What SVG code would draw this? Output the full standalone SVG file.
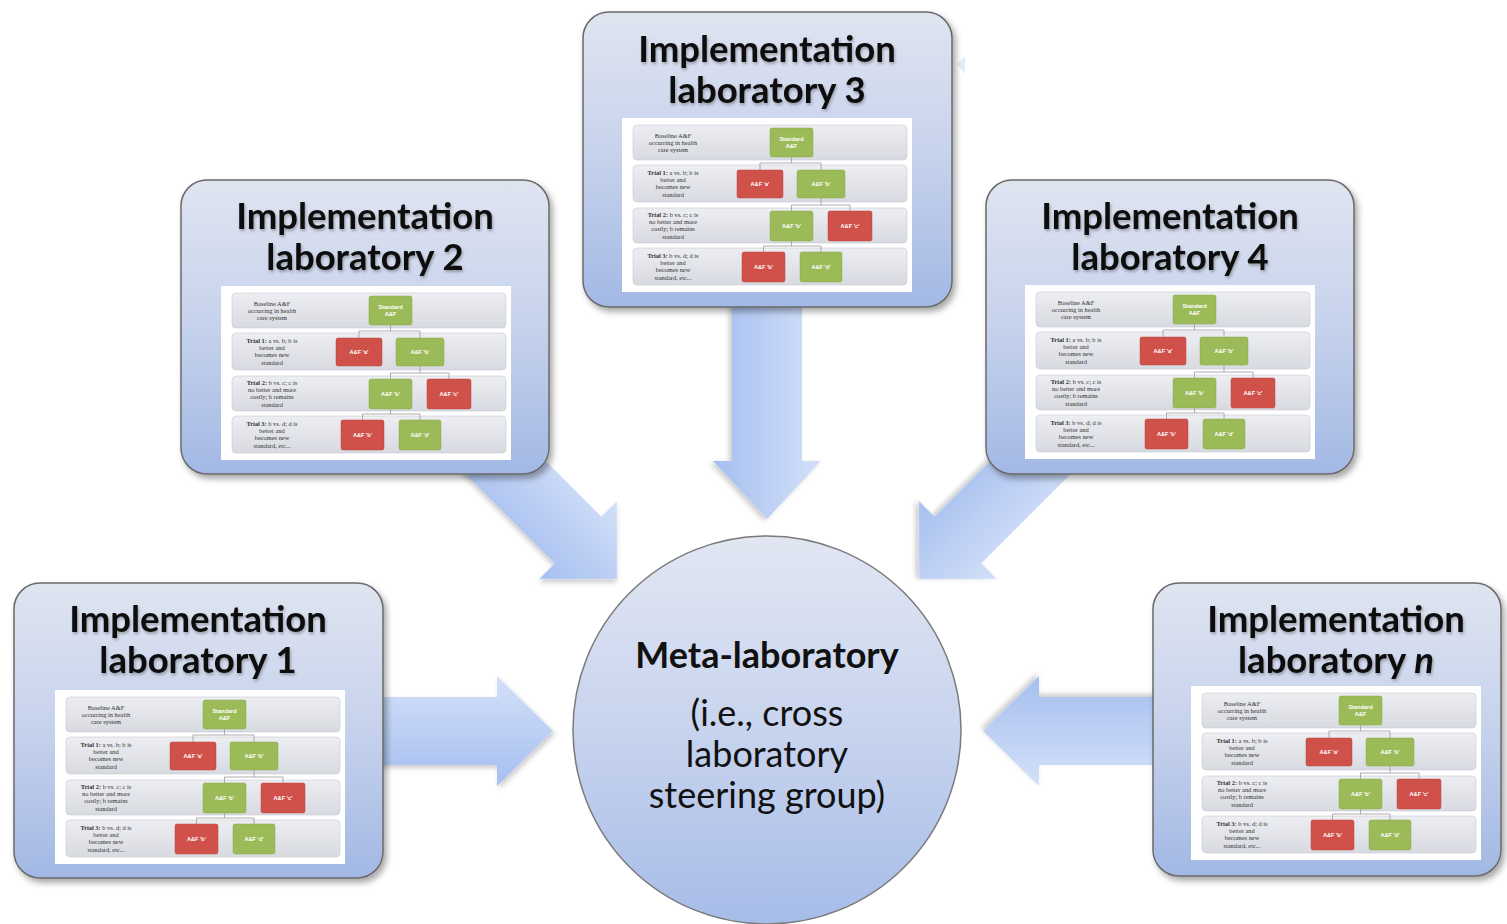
<svg xmlns="http://www.w3.org/2000/svg" xmlns:xlink="http://www.w3.org/1999/xlink" width="1507" height="924" viewBox="0 0 1507 924">
<style>
.box{stroke:#6a6a6a;stroke-width:1.5;fill:url(#boxGrad);filter:url(#shadow)}
.title{font-family:Lato,"Open Sans","Liberation Sans",sans-serif;font-weight:bold;font-size:36.5px;fill:#111;text-anchor:middle;filter:url(#tshadow)}
.circ{font-family:Lato,"Open Sans","Liberation Sans",sans-serif;font-size:36px;fill:#111;text-anchor:middle}
.arrow{fill:url(#arrGrad);filter:url(#ashadow)}
.row{fill:url(#rowGrad);stroke:#c9cbd2;stroke-width:0.6}
.rt{font-family:"Liberation Serif",serif;font-size:6.4px;fill:#333;text-anchor:middle}
.bt{font-family:"Liberation Sans",sans-serif;font-size:5.6px;font-weight:bold;fill:#fff;text-anchor:middle}
.g{fill:#9bbb59;stroke:#8aa84c;stroke-width:0.5}
.r{fill:#d0504a;stroke:#b84440;stroke-width:0.5}
.ln{stroke:#9a9a9a;stroke-width:0.8;fill:none}
</style>
<defs>
<linearGradient id="boxGrad" x1="0" y1="0" x2="0" y2="1">
<stop offset="0" stop-color="#dfe4f0"/>
<stop offset="0.5" stop-color="#c6d2ec"/>
<stop offset="1" stop-color="#a2b8e4"/>
</linearGradient>
<linearGradient id="circGrad" x1="0" y1="0" x2="0" y2="1">
<stop offset="0" stop-color="#e1e6f2"/>
<stop offset="0.5" stop-color="#c8d4ee"/>
<stop offset="1" stop-color="#a6bce8"/>
</linearGradient>
<linearGradient id="arrGrad" x1="0" y1="0" x2="0" y2="1">
<stop offset="0" stop-color="#d3e0f8"/>
<stop offset="1" stop-color="#a6bff0"/>
</linearGradient>
<linearGradient id="rowGrad" x1="0" y1="0" x2="0" y2="1">
<stop offset="0" stop-color="#eceef2"/>
<stop offset="1" stop-color="#d8dae1"/>
</linearGradient>
<filter id="shadow" x="-10%" y="-10%" width="125%" height="125%">
<feDropShadow dx="3" dy="4" stdDeviation="3" flood-color="#000" flood-opacity="0.35"/>
</filter>
<filter id="ashadow" x="-20%" y="-20%" width="140%" height="140%">
<feDropShadow dx="2" dy="3" stdDeviation="2.5" flood-color="#000" flood-opacity="0.2"/>
</filter>
<filter id="tshadow" x="-10%" y="-20%" width="120%" height="150%">
<feDropShadow dx="1" dy="2" stdDeviation="1.5" flood-color="#000" flood-opacity="0.3"/>
</filter>
<g id="tbl">
<rect x="0" y="0" width="290" height="174" fill="#fff"/>
<rect class="row" x="11" y="7" width="274" height="35" rx="4"/>
<rect class="row" x="11" y="47" width="274" height="37" rx="4"/>
<rect class="row" x="11" y="90" width="274" height="35" rx="4"/>
<rect class="row" x="11" y="130" width="274" height="37" rx="4"/>
<text class="rt" x="51" y="19.5">Baseline A&amp;F</text>
<text class="rt" x="51" y="26.7">occurring in health</text>
<text class="rt" x="51" y="33.9">care system</text>
<text class="rt" x="51" y="56.9"><tspan font-weight="bold">Trial 1:</tspan> a vs. b; b is</text>
<text class="rt" x="51" y="64.1">better and</text>
<text class="rt" x="51" y="71.3">becomes new</text>
<text class="rt" x="51" y="78.5">standard</text>
<text class="rt" x="51" y="98.9"><tspan font-weight="bold">Trial 2:</tspan> b vs. c; c is</text>
<text class="rt" x="51" y="106.1">no better and more</text>
<text class="rt" x="51" y="113.3">costly; b remains</text>
<text class="rt" x="51" y="120.5">standard</text>
<text class="rt" x="51" y="139.9"><tspan font-weight="bold">Trial 3:</tspan> b vs. d; d is</text>
<text class="rt" x="51" y="147.1">better and</text>
<text class="rt" x="51" y="154.3">becomes new</text>
<text class="rt" x="51" y="161.5">standard, etc...</text>
<path class="ln" d="M169.5,39 V45 M138,45 H199 M138,45 V52 M199,45 V52 M199,80 V87 M169.5,87 H228 M169.5,87 V93 M228,87 V93 M169.5,123 V128 M141.5,128 H199 M141.5,128 V134 M199,128 V134"/>
<rect class="g" x="148" y="10" width="43" height="29" rx="2"/>
<text class="bt" x="169.5" y="23">Standard</text>
<text class="bt" x="169.5" y="30">A&amp;F</text>
<rect class="r" x="115" y="52" width="46" height="28" rx="2"/>
<text class="bt" x="138" y="68">A&amp;F 'a'</text>
<rect class="g" x="175" y="52" width="48" height="28" rx="2"/>
<text class="bt" x="199" y="68">A&amp;F 'b'</text>
<rect class="g" x="148" y="93" width="43" height="30" rx="2"/>
<text class="bt" x="169.5" y="110">A&amp;F 'b'</text>
<rect class="r" x="206" y="93" width="44" height="30" rx="2"/>
<text class="bt" x="228" y="110">A&amp;F 'c'</text>
<rect class="r" x="120" y="134" width="43" height="30" rx="2"/>
<text class="bt" x="141.5" y="151">A&amp;F 'b'</text>
<rect class="g" x="178" y="134" width="42" height="30" rx="2"/>
<text class="bt" x="199" y="151">A&amp;F 'd'</text>
</g>
</defs>
<rect width="1507" height="924" fill="#fff"/>
<g id="connectors">
<polygon class="arrow" transform="translate(553,731)" points="0,0 -56,-55 -56,-34 -180,-34 -180,34 -56,34 -56,55"/>
<polygon class="arrow" transform="translate(983,731) rotate(180)" points="0,0 -56,-55 -56,-34 -180,-34 -180,34 -56,34 -56,55"/>
<polygon class="arrow" transform="translate(767,519) rotate(90)" points="0,0 -58,-54 -58,-35 -230,-35 -230,35 -58,35 -58,54"/>
<polygon class="arrow" transform="translate(617,579) rotate(45)" points="0,0 -55,-55 -55,-33 -200,-33 -200,33 -55,33 -55,55"/>
<polygon class="arrow" transform="translate(919,579) rotate(135)" points="0,0 -55,-55 -55,-33 -200,-33 -200,33 -55,33 -55,55"/>
<polygon fill="#dfe7f8" opacity="0.8" points="957,64 965,56 965,74"/>
</g>
<g id="meta">
<circle cx="767" cy="730" r="194" fill="url(#circGrad)" stroke="#7a7a7a" stroke-width="1.5"/>
<text class="circ" x="767" y="668" font-weight="bold">Meta-laboratory</text>
<text class="circ" x="767" y="726">(i.e., cross</text>
<text class="circ" x="767" y="767">laboratory</text>
<text class="circ" x="767" y="808">steering group)</text>
</g>
<g id="lab3">
<rect class="box" x="583" y="12" width="369" height="295" rx="26"/>
<text class="title" x="767" y="62">Implementation</text>
<text class="title" x="767" y="103">laboratory 3</text>
<use xlink:href="#tbl" x="622" y="118"/>
</g>
<g id="lab2">
<rect class="box" x="181" y="180" width="368" height="294" rx="26"/>
<text class="title" x="365" y="229">Implementation</text>
<text class="title" x="365" y="270">laboratory 2</text>
<use xlink:href="#tbl" x="221" y="286"/>
</g>
<g id="lab4">
<rect class="box" x="986" y="180" width="368" height="294" rx="26"/>
<text class="title" x="1170" y="229">Implementation</text>
<text class="title" x="1170" y="270">laboratory 4</text>
<use xlink:href="#tbl" x="1025" y="285"/>
</g>
<g id="lab1">
<rect class="box" x="14" y="583" width="369" height="295" rx="26"/>
<text class="title" x="198" y="632">Implementation</text>
<text class="title" x="198" y="673">laboratory 1</text>
<use xlink:href="#tbl" x="55" y="690"/>
</g>
<g id="labn">
<rect class="box" x="1153" y="583" width="348" height="293" rx="26"/>
<text class="title" x="1336" y="632">Implementation</text>
<text class="title" x="1336" y="673">laboratory <tspan font-style="italic">n</tspan></text>
<use xlink:href="#tbl" x="1191" y="686"/>
</g>
</svg>
